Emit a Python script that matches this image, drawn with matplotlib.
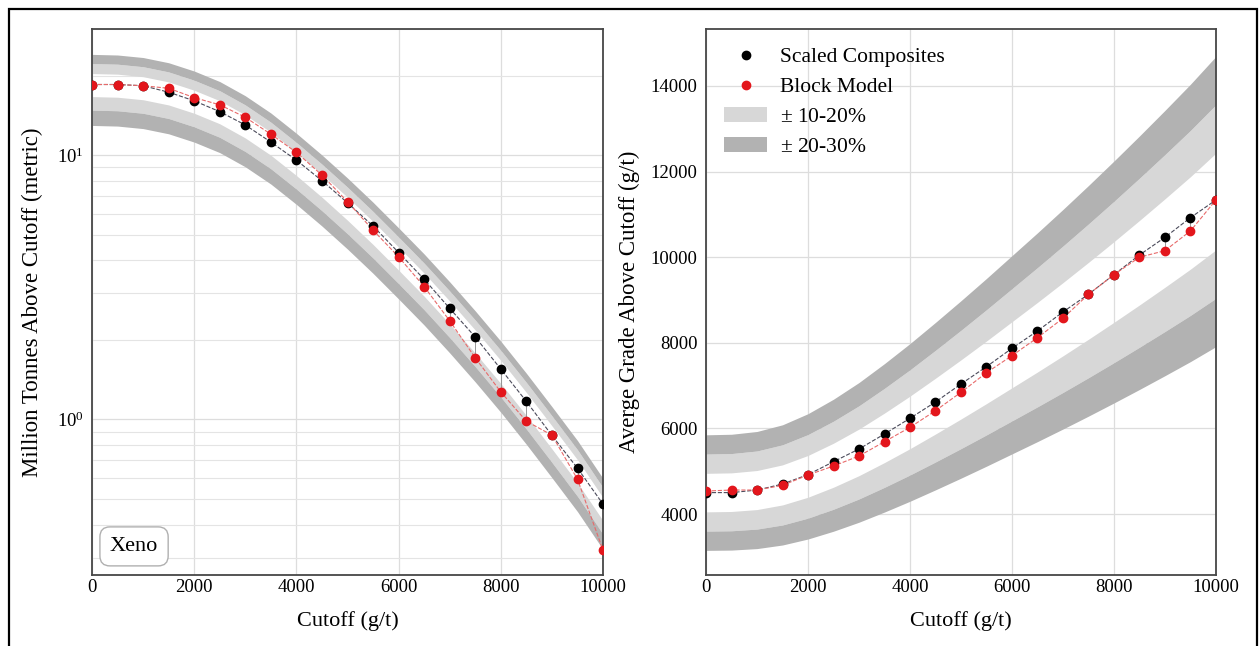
import numpy as np
import matplotlib
matplotlib.use("Agg")
import matplotlib.pyplot as plt
from matplotlib.patches import Rectangle, Patch
from matplotlib.lines import Line2D
from matplotlib.ticker import LogLocator, NullFormatter, FixedLocator

plt.rcParams["font.family"] = ["Liberation Serif", "DejaVu Serif"]
plt.rcParams["mathtext.fontset"] = "custom"
plt.rcParams["mathtext.rm"] = "Liberation Serif"
plt.rcParams["mathtext.it"] = "Liberation Serif:italic"

# ---- data -------------------------------------------------------------
cutoff = [0, 500, 1000, 1500, 2000, 2500, 3000, 3500, 4000, 4500, 5000,
          5500, 6000, 6500, 7000, 7500, 8000, 8500, 9000, 9500, 10000]

# tonnage above cutoff (million t)
tonnes_composites = [18.5, 18.5, 18.3, 17.3, 16.05, 14.6, 13.0, 11.2, 9.57, 8.0, 6.6,
                     5.39, 4.28, 3.39, 2.63, 2.05, 1.55, 1.17, 0.87, 0.654, 0.478]
tonnes_block = [18.5, 18.5, 18.3, 17.9, 16.5, 15.5, 13.9, 12.0, 10.24, 8.4, 6.66,
                5.2, 4.12, 3.18, 2.36, 1.71, 1.27, 0.985, 0.872, 0.594, 0.32]
tonnes_trend = [18.5, 18.4, 18.0, 17.2, 16.0, 14.6, 12.9, 11.1, 9.3, 7.7, 6.3,
                5.1, 4.08, 3.25, 2.55, 1.98, 1.52, 1.15, 0.86, 0.64, 0.46]

# average grade above cutoff (g/t)
grade_composites = [4500, 4500, 4560, 4700, 4920, 5222, 5519, 5869, 6236, 6617, 7037,
                    7442, 7871, 8276, 8720, 9133, 9591, 10051, 10463, 10923, 11336]
grade_block = [4537, 4560, 4560, 4670, 4911, 5121, 5355, 5690, 6025, 6414, 6843,
               7301, 7699, 8119, 8572, 9133, 9591, 9998, 10152, 10612, 11336]
grade_trend = [4500, 4510, 4560, 4680, 4880, 5140, 5440, 5780, 6140, 6520, 6910,
               7310, 7720, 8130, 8550, 8980, 9420, 9870, 10330, 10800, 11300]

band_inner = (0.1, 0.2)   # +/- 10-20 %
band_outer = (0.2, 0.3)   # +/- 20-30 %

LIGHT = "#d7d7d7"
DARK = "#b2b2b2"
RED = "#e3161c"
FS_TICK = 13.5
FS_LABEL = 16
FS_YLABEL = 16.5
FS_LEGEND = 15.5

x = np.array(cutoff, dtype=float)


def draw_bands(ax, trend):
    t = np.array(trend, dtype=float)
    for (lo, hi), col in ((band_inner, LIGHT), (band_outer, DARK)):
        ax.fill_between(x, t * (1 + lo), t * (1 + hi), color=col, lw=0, zorder=1)
        ax.fill_between(x, t * (1 - hi), t * (1 - lo), color=col, lw=0, zorder=1)


def draw_series(ax, comp, block):
    ax.vlines(x, comp, block, colors="#888888", lw=0.6, zorder=2)
    ax.plot(x, comp, ls="--", color="#4a4a5a", lw=0.8, zorder=3)
    ax.plot(x, block, ls="--", color="#e86a6a", lw=0.8, zorder=3)
    ax.plot(x, comp, "o", color="black", ms=6, zorder=4)
    ax.plot(x, block, "o", color=RED, ms=6, zorder=5)


def style(ax):
    for s in ax.spines.values():
        s.set_color("#474747")
        s.set_linewidth(1.3)
    ax.tick_params(which="both", length=0, labelsize=FS_TICK)
    ax.tick_params(axis="x", pad=3)
    ax.tick_params(axis="y", pad=6)
    ax.set_xlim(0, 10000)
    ax.xaxis.set_major_locator(FixedLocator([0, 2000, 4000, 6000, 8000, 10000]))
    ax.set_xlabel("Cutoff (g/t)", fontsize=FS_LABEL, labelpad=11)
    ax.set_axisbelow(True)


fig = plt.figure(figsize=(12.59, 6.46), dpi=100)

# ---- left: tonnage ------------------------------------------------------
axL = fig.add_axes([0.0731, 0.1099, 0.4059, 0.8452])
draw_bands(axL, tonnes_trend)
draw_series(axL, tonnes_composites, tonnes_block)
axL.set_yscale("log")
axL.set_ylim(0.258, 30)
axL.yaxis.set_major_locator(LogLocator(base=10))
axL.yaxis.set_minor_locator(LogLocator(base=10, subs=np.arange(2, 10)))
axL.yaxis.set_minor_formatter(NullFormatter())
axL.grid(True, which="major", color="#dddddd", lw=0.9)
axL.grid(True, which="minor", axis="y", color="#e4e4e4", lw=0.8)
style(axL)
axL.set_ylabel("Million Tonnes Above Cutoff (metric)", fontsize=FS_YLABEL, labelpad=10)
axL.text(0.035, 0.035, "Xeno", transform=axL.transAxes, fontsize=FS_LABEL,
         ha="left", va="bottom", zorder=6,
         bbox=dict(boxstyle="round,pad=0.45", fc="white", ec="#b0b0b0", lw=1.0))

# ---- right: grade ---------------------------------------------------------
axR = fig.add_axes([0.5608, 0.1099, 0.4050, 0.8452])
draw_bands(axR, grade_trend)
draw_series(axR, grade_composites, grade_block)
axR.set_ylim(2575, 15330)
axR.yaxis.set_major_locator(FixedLocator([4000, 6000, 8000, 10000, 12000, 14000]))
axR.grid(True, which="major", color="#dddddd", lw=0.9)
style(axR)
axR.set_ylabel("Averge Grade Above Cutoff (g/t)", fontsize=FS_YLABEL, labelpad=8)

handles = [
    Line2D([], [], ls="none", marker="o", color="black", ms=6),
    Line2D([], [], ls="none", marker="o", color=RED, ms=6),
    Patch(facecolor=LIGHT, edgecolor="none"),
    Patch(facecolor=DARK, edgecolor="none"),
]
labels = ["Scaled Composites", "Block Model", r"$\pm$ 10-20%", r"$\pm$ 20-30%"]
axR.legend(handles, labels, loc="upper left", frameon=False, fontsize=FS_LEGEND,
           handlelength=2.0, handletextpad=0.6, labelspacing=0.45,
           borderaxespad=0.45)

# outer frame
fig.add_artist(Rectangle((0.0068, -0.05), 0.9916, 1.036, transform=fig.transFigure,
                         fill=False, ec="black", lw=1.6))

fig.savefig("out.png", dpi=100)
